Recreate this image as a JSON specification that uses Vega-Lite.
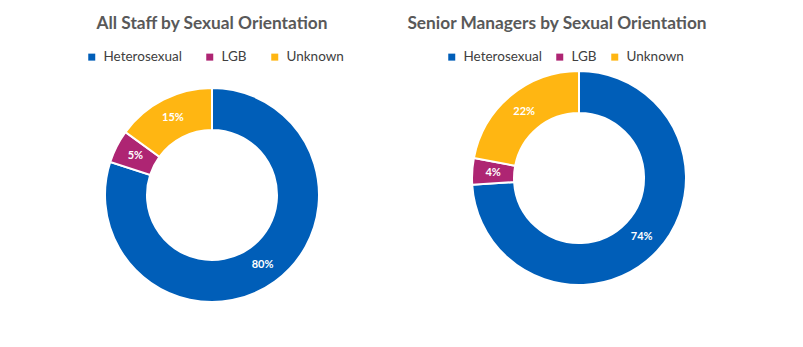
{
  "$schema": "https://vega.github.io/schema/vega-lite/v6.json",
  "padding": {"left": 0, "top": 14, "right": 0, "bottom": 0},
  "background": "white",
  "spacing": 0,
  "bounds": "flush",
  "config": {"view": {"stroke": null}, "font": "Lato"},
  "hconcat": [
    {
      "width": 424,
      "height": 300,
      "title": {"text": "All Staff by Sexual Orientation", "fontSize": 17.3, "font": "Lato", "fontWeight": "bold", "color": "#595959", "anchor": "middle", "offset": 13},
      "data": {"values": [
        {"category": "Heterosexual", "value": 0.80},
        {"category": "LGB", "value": 0.05},
        {"category": "Unknown", "value": 0.15}
      ]},
      "encoding": {
        "theta": {"field": "value", "type": "quantitative", "stack": true},
        "order": {"field": "category", "sort": "ascending"}
      },
      "layer": [
        {
          "mark": {"type": "arc", "radius": 107, "radius2": 65, "stroke": "white", "strokeWidth": 2},
          "encoding": {
            "color": {"field": "category", "type": "nominal",
              "scale": {"domain": ["Heterosexual", "LGB", "Unknown"], "range": ["#005EB8", "#AE2573", "#FFB612"]},
              "legend": {"orient": "none", "legendX": 85, "legendY": 5, "direction": "horizontal", "title": null, "symbolType": "square", "symbolSize": 49, "symbolStrokeWidth": 0, "labelFontSize": 13.5, "labelFont": "Lato", "labelColor": "#404040", "columnPadding": 21, "labelOffset": 5}
            }
          }
        },
        {
          "mark": {"type": "text", "radius": 86, "fill": "white", "fontWeight": "bold", "fontSize": 11, "font": "Lato"},
          "encoding": {"text": {"field": "value", "type": "quantitative", "format": ".0%"}}
        }
      ]
    },
    {
      "width": 310,
      "height": 266,
      "title": {"text": "Senior Managers by Sexual Orientation", "fontSize": 17.3, "font": "Lato", "fontWeight": "bold", "color": "#595959", "anchor": "middle", "offset": 13, "dx": -22},
      "data": {"values": [
        {"category": "Heterosexual", "value": 0.74},
        {"category": "LGB", "value": 0.04},
        {"category": "Unknown", "value": 0.22}
      ]},
      "encoding": {
        "theta": {"field": "value", "type": "quantitative", "stack": true},
        "order": {"field": "category", "sort": "ascending"}
      },
      "layer": [
        {
          "mark": {"type": "arc", "radius": 107, "radius2": 65, "stroke": "white", "strokeWidth": 2},
          "encoding": {
            "color": {"field": "category", "type": "nominal",
              "scale": {"domain": ["Heterosexual", "LGB", "Unknown"], "range": ["#005EB8", "#AE2573", "#FFB612"]},
              "legend": {"orient": "none", "legendX": 21, "legendY": 5, "direction": "horizontal", "title": null, "symbolType": "square", "symbolSize": 49, "symbolStrokeWidth": 0, "labelFontSize": 13.5, "labelFont": "Lato", "labelColor": "#404040", "columnPadding": 11, "labelOffset": 5}
            }
          }
        },
        {
          "mark": {"type": "text", "radius": 86, "fill": "white", "fontWeight": "bold", "fontSize": 11, "font": "Lato"},
          "encoding": {"text": {"field": "value", "type": "quantitative", "format": ".0%"}}
        }
      ]
    }
  ],
  "resolve": {"scale": {"color": "independent", "theta": "independent"}, "legend": {"color": "independent"}}
}
